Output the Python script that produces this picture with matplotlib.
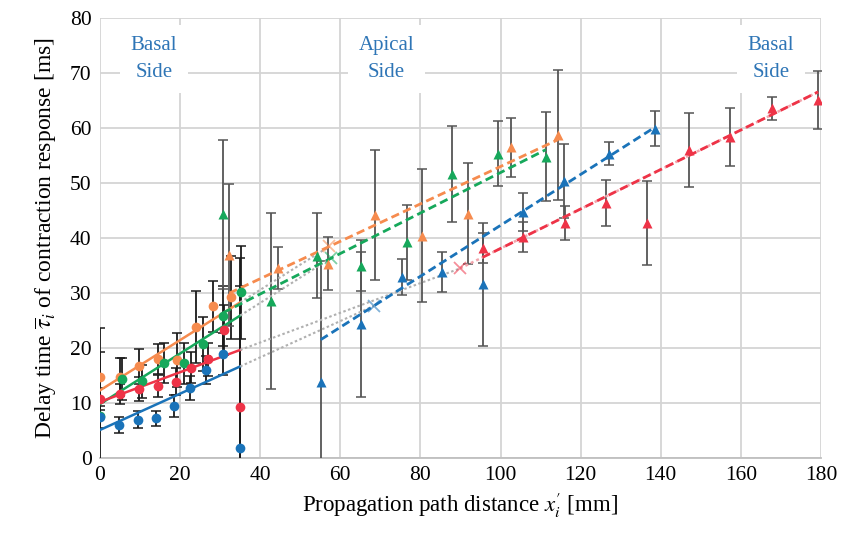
import numpy as np
import matplotlib
matplotlib.use("Agg")
import matplotlib.pyplot as plt

plt.rcParams['font.family'] = ['Liberation Serif', 'DejaVu Serif']
plt.rcParams['mathtext.fontset'] = 'stix'

# ---- data ----
# Basal side (circles)
orange_c_x = [0, 4.9, 9.7, 14.6, 19.3, 24.0, 28.3, 32.8]
orange_c_y = [14.7, 14.7, 16.7, 18.0, 17.8, 23.8, 27.6, 29.2]
orange_c_e = [4.6, 3.5, 3.2, 2.8, 4.9, 6.6, 4.6, 7.5]

green_c_x = [0, 5.4, 10.6, 16.1, 21.0, 25.8, 30.6, 35.2]
green_c_y = [7.6, 14.4, 14.0, 17.3, 17.2, 20.8, 25.8, 30.1]
green_c_e = [16.0, 3.8, 3.0, 3.6, 3.8, 4.9, 5.5, 8.5]

red_c_x = [0, 5.0, 9.8, 14.6, 18.9, 22.8, 27.0, 31.0, 35.0]
red_c_y = [10.8, 11.6, 12.5, 13.1, 13.9, 16.4, 18.0, 23.3, 9.3]
red_c_e = [2.0, 1.8, 2.2, 2.0, 2.5, 2.8, 3.0, 4.5, 27.0]

blue_c_x = [0, 4.8, 9.4, 13.9, 18.4, 22.5, 26.5, 30.8, 34.9]
blue_c_y = [7.5, 6.0, 7.0, 7.2, 9.5, 12.7, 16.0, 18.9, 1.8]
blue_c_e = [2.0, 1.4, 1.6, 1.4, 2.0, 2.2, 2.6, 3.8, 29.5]

# Apical side (triangles)
orange_t_x = [32.3, 44.4, 56.8, 68.6, 80.3, 91.9, 102.7, 114.3]
orange_t_y = [36.9, 34.6, 35.3, 44.2, 40.4, 44.4, 56.5, 58.8]
orange_t_e = [12.9, 3.8, 4.8, 11.8, 12.1, 9.2, 5.4, 11.8]

green_t_x = [30.8, 42.6, 54.1, 65.2, 76.6, 88.0, 99.3, 111.3]
green_t_y = [44.3, 28.6, 36.8, 35.0, 39.2, 51.6, 55.3, 54.8]
green_t_e = [13.5, 16.0, 7.7, 4.6, 6.8, 8.7, 5.9, 8.1]

blue_t_x = [55.1, 65.2, 75.3, 85.5, 95.5, 105.6, 115.9, 127.1, 138.6]
blue_t_y = [13.9, 24.3, 32.9, 33.8, 31.6, 44.7, 50.4, 55.3, 59.9]
blue_t_e = [22.0, 13.2, 3.3, 3.7, 11.2, 3.5, 6.7, 2.1, 3.2]

red_t_x = [95.5, 105.7, 116.1, 126.3, 136.6, 147.0, 157.3, 167.8, 179.3]
red_t_y = [38.2, 40.2, 42.8, 46.4, 42.7, 56.0, 58.4, 63.6, 65.1]
red_t_e = [2.7, 2.8, 3.1, 4.2, 7.6, 6.7, 5.3, 2.1, 5.2]

# Fit lines: (intercept, slope)
basal_fit = {'orange': (12.3, 0.457), 'green': (9.8, 0.46), 'red': (10.2, 0.27), 'blue': (5.1, 0.33)}
basal_end = 35.0
apical_fit = {'orange': (19.0, 0.34), 'green': (15.1, 0.368), 'blue': (-4.0, 0.463), 'red': (2.2, 0.359)}

colors = {'orange': '#F68B4E', 'green': '#16A85B', 'red': '#EE3347', 'blue': '#1A73B9'}
text_blue = '#2E75B6'

fig = plt.figure(figsize=(8.5, 5.37), dpi=100)
ax = fig.add_axes([100/850, 1-458/537, 721/850, 440/537])
ax.set_xlim(0, 180)
ax.set_ylim(0, 80)
ax.set_xticks(np.arange(0, 181, 20))
ax.set_yticks(np.arange(0, 81, 10))
ax.grid(True, color='#d4d4d4', linewidth=1.3, zorder=0)
ax.set_axisbelow(True)
for s in ['top', 'right', 'left']:
    ax.spines[s].set_visible(False)
ax.spines['bottom'].set_color('#bfbfbf')
ax.spines['bottom'].set_linewidth(1.3)
ax.tick_params(length=0, labelsize=15.5, pad=6)

# annotations with white boxes
for tx, ty, s in [(13.5, 72.5, 'Basal\nSide'), (71.5, 72.5, 'Apical\nSide'), (167.5, 72.5, 'Basal\nSide')]:
    ax.text(tx, ty, s, ha='center', va='center', fontsize=15, color=text_blue,
            linespacing=1.55, zorder=3,
            bbox=dict(facecolor='white', edgecolor='none', pad=8))

# error bars
def ebar(x, y, e, ecol):
    ax.errorbar(x, y, yerr=e, fmt='none', ecolor=ecol, elinewidth=1.3, capsize=3.5,
                capthick=1.1, zorder=4)

for name, (x, y, e) in {'orange': (orange_c_x, orange_c_y, orange_c_e),
                        'green': (green_c_x, green_c_y, green_c_e),
                        'red': (red_c_x, red_c_y, red_c_e),
                        'blue': (blue_c_x, blue_c_y, blue_c_e)}.items():
    ebar(x, y, e, '#1a1a1a')

for name, (x, y, e) in {'orange': (orange_t_x, orange_t_y, orange_t_e),
                        'green': (green_t_x, green_t_y, green_t_e),
                        'blue': (blue_t_x, blue_t_y, blue_t_e),
                        'red': (red_t_x, red_t_y, red_t_e)}.items():
    ebar(x, y, e, '#555555')

# basal fits (solid), gray dotted extensions to intersection, x markers
ranges_apical = {'orange': (orange_t_x[0], orange_t_x[-1]), 'green': (green_t_x[0], green_t_x[-1]),
                 'blue': (blue_t_x[0], blue_t_x[-1]), 'red': (red_t_x[0], red_t_x[-1])}
for name in ['orange', 'green', 'red', 'blue']:
    b0, b1 = basal_fit[name]
    a0, a1 = apical_fit[name]
    xs = np.array([0, basal_end])
    ax.plot(xs, b0 + b1 * xs, color=colors[name], lw=1.8, zorder=5)
    xi = (a0 - b0) / (b1 - a1)
    yi = b0 + b1 * xi
    xe = np.array([basal_end, xi])
    ax.plot(xe, b0 + b1 * xe, color='#b0b0b0', lw=1.5, ls=(0, (1.2, 1.2)), zorder=5)
    ax.plot([xi], [yi], marker='x', ms=9, mew=1.3, color=colors[name], alpha=0.55, zorder=6)
    x0, x1 = ranges_apical[name]
    if name == 'red':
        xr = np.array([xi, x1])
        ax.plot(xr, a0 + a1 * xr, color='#f3a5ad', lw=1.8, ls=(0, (1.2, 1.2)), zorder=5)
    xa = np.array([x0, x1])
    ax.plot(xa, a0 + a1 * xa, color=colors[name], lw=2.0, ls=(0, (3, 1.6)), zorder=5)

# markers
for name, (x, y) in {'orange': (orange_c_x, orange_c_y), 'green': (green_c_x, green_c_y),
                     'red': (red_c_x, red_c_y), 'blue': (blue_c_x, blue_c_y)}.items():
    ax.plot(x, y, 'o', ms=7, color=colors[name], mec='none', zorder=7)
for name, (x, y) in {'orange': (orange_t_x, orange_t_y), 'green': (green_t_x, green_t_y),
                     'blue': (blue_t_x, blue_t_y), 'red': (red_t_x, red_t_y)}.items():
    ax.plot(x, y, '^', ms=6.5, color=colors[name], mec='none', zorder=7)

ax.set_xlabel(r"Propagation path distance $x_i^{\prime}$ [mm]", fontsize=16.5, labelpad=4)
ax.set_ylabel(r"Delay time $\overline{\tau}_i$ of contraction response [ms]", fontsize=17, labelpad=8)

fig.savefig('out.png', dpi=100)
